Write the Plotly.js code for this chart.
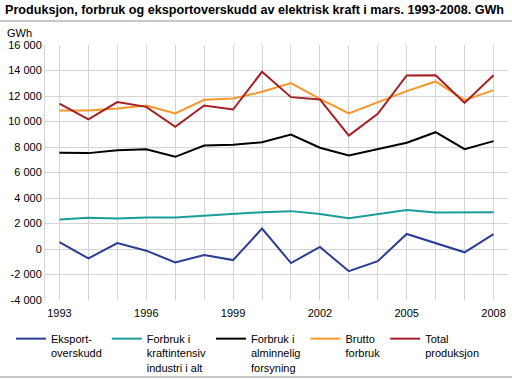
<!DOCTYPE html>
<html><head><meta charset="utf-8">
<script src="https://cdn.plot.ly/plotly-3.0.1.min.js"></script>
<style>html,body{margin:0;padding:0;background:#fff}#chart{width:512px;height:379px}</style>
</head><body><div id="chart"></div>
<script>
var years = [1993,1994,1995,1996,1997,1998,1999,2000,2001,2002,2003,2004,2005,2006,2007,2008];
var eksport = [530,-740,470,-130,-1050,-470,-870,1600,-1100,160,-1740,-950,1180,470,-260,1160];
var kraftintensiv = [2310,2450,2390,2480,2470,2610,2700,2890,2970,2740,2420,2740,3050,2870,2890,2890];
var alminnelig = [7540,7520,7750,7830,7230,8120,8170,8380,8980,7940,7330,7860,8330,9160,7830,8460];
var brutto = [10860,10860,11020,11250,10630,11700,11800,12330,13010,11780,10630,11520,12380,13140,11670,12460];
var total = [11410,10160,11520,11150,9580,11250,10940,13900,11910,11730,8900,10600,13610,13630,11460,13630];
var names = ["Eksport-<br>overskudd","Forbruk i<br>kraftintensiv<br>industri i alt","Forbruk i<br>alminnelig<br>forsyning","Brutto<br>forbruk","Total<br>produksjon"];
var colors = ["#2b3d94","#1a9d9a","#000000","#f7962a","#a51f24"];
var series = [eksport,kraftintensiv,alminnelig,brutto,total];
var yTickVals = [-4000,-2000,0,2000,4000,6000,8000,10000,12000,14000,16000];
var yTickText = ["-4 000","-2 000","0","2 000","4 000","6 000","8 000","10 000","12 000","14 000","16 000"];
var xTickText = years.map(function(y){return (y-1993)%3===0 ? String(y) : "";});

var traces = series.map(function(s,i){
  return {x:years,y:s,type:"scatter",mode:"lines",name:names[i],
    line:{color:colors[i],width:2}};
});
var W=512,H=379,L=45,R=4,T=45,B=79;
var pw=W-L-R, ph=H-T-B;
var layout = {
  width:W,height:H,
  margin:{l:L,r:R,t:T,b:B,pad:0,autoexpand:false},
  paper_bgcolor:"#fff",plot_bgcolor:"#fff",
  font:{family:"Liberation Sans, Arial, sans-serif",size:11,color:"#000"},
  title:{text:"<b>Produksjon, forbruk og eksportoverskudd av elektrisk kraft i mars. 1993-2008. GWh</b>",
    font:{size:12.6,color:"#000"},xref:"container",x:5/W,xanchor:"left",yref:"container",y:1-10/H,yanchor:"middle"},
  xaxis:{range:[1992.5,2008.5],tickvals:years,ticktext:xTickText,showgrid:true,gridcolor:"#d4d4d4",gridwidth:1,
    zeroline:false,showline:false,ticks:"",tickfont:{size:11},ticklabelstandoff:5},
  yaxis:{range:[-4000,16000],tickvals:yTickVals,ticktext:yTickText,showgrid:true,gridcolor:"#d4d4d4",gridwidth:1,
    zeroline:false,showline:true,linecolor:"#d4d4d4",ticks:"",tickfont:{size:11}},
  showlegend:true,
  legend:{orientation:"h",x:(11-L)/pw,xanchor:"left",y:-(325-T-ph)/ph,yanchor:"top",bgcolor:"rgba(0,0,0,0)",
    valign:"top",font:{size:11},itemwidth:30,tracegroupgap:0},
  annotations:[{text:"GWh",xref:"paper",yref:"paper",x:0,y:1,xshift:-40,yshift:12,xanchor:"left",yanchor:"middle",
    showarrow:false,font:{size:11}}],
  shapes:[
    {type:"line",xref:"paper",yref:"paper",xsizemode:"pixel",ysizemode:"pixel",xanchor:0,yanchor:1,
      x0:-L,x1:pw+R,y0:T-21,y1:T-21,line:{color:"#c8c8c8",width:2}},
    {type:"line",xref:"paper",yref:"paper",xsizemode:"pixel",ysizemode:"pixel",xanchor:0,yanchor:0,
      x0:-L,x1:pw+R,y0:-(377-T-ph),y1:-(377-T-ph),line:{color:"#c8c8c8",width:2}}
  ]
};
Plotly.newPlot("chart",traces,layout,{displayModeBar:false,staticPlot:true});
</script></body></html>
